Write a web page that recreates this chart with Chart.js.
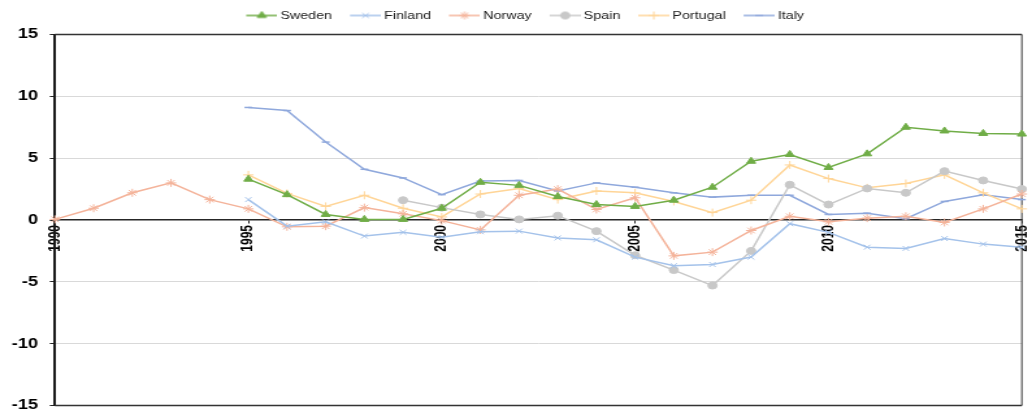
<!DOCTYPE html>
<html>
<head>
<meta charset="utf-8">
<script src="https://cdn.jsdelivr.net/npm/chart.js@4/dist/chart.umd.min.js"></script>
<style>
  html, body { margin: 0; padding: 0; background: #fff; overflow: hidden; }
</style>
</head>
<body>
<!-- drawn on a narrower canvas and widened by CSS, giving the wide lettering and oval markers -->
<canvas id="c" width="794" height="411" style="width:1032px;height:411px;display:block"></canvas>
<script>
// Annual values per country, 1990-2015 (null = no observation)
const years = ['1990','1991','1992','1993','1994','1995','1996','1997','1998','1999','2000','2001','2002',
               '2003','2004','2005','2006','2007','2008','2009','2010','2011','2012','2013','2014','2015'];

const sweden   = [null, null, null, null, null, 3.3, 2.05, 0.45, 0.05, 0.05, 0.95, 3.05, 2.8,
                  1.9, 1.25, 1.1, 1.6, 2.65, 4.75, 5.3, 4.25, 5.35, 7.5, 7.2, 7.0, 6.95];
const finland  = [null, null, null, null, null, 1.65, -0.5, -0.15, -1.3, -1.0, -1.4, -0.95, -0.9,
                  -1.45, -1.6, -3.0, -3.7, -3.6, -3.0, -0.3, -1.0, -2.2, -2.3, -1.5, -1.95, -2.2];
const norway   = [0.05, 0.95, 2.2, 3.0, 1.65, 0.9, -0.55, -0.5, 1.0, 0.5, -0.05, -0.8, 2.0,
                  2.5, 0.85, 1.8, -2.9, -2.6, -0.85, 0.3, -0.15, 0.15, 0.3, -0.2, 0.9, 2.1];
const spain    = [null, null, null, null, null, null, null, null, null, 1.6, 1.0, 0.45, 0.05,
                  0.35, -0.9, -2.85, -4.05, -5.3, -2.5, 2.85, 1.25, 2.55, 2.2, 3.95, 3.2, 2.5];
const portugal = [null, null, null, null, null, 3.65, 2.15, 1.1, 2.0, 0.95, 0.25, 2.1, 2.55,
                  1.65, 2.35, 2.2, 1.5, 0.6, 1.6, 4.45, 3.35, 2.6, 2.95, 3.65, 2.2, 0.9];
const italy    = [null, null, null, null, null, 9.1, 8.85, 6.3, 4.1, 3.4, 2.05, 3.15, 3.2,
                  2.35, 3.0, 2.65, 2.2, 1.85, 2.0, 2.0, 0.45, 0.55, 0.1, 1.5, 2.05, 1.65];

const seriesNames = ['Sweden', 'Finland', 'Norway', 'Spain', 'Portugal', 'Italy'];
const yMin = -15, yMax = 15, yStep = 5;
const labelEvery = 5;

const FONT = '"Liberation Sans", Arial, Helvetica, sans-serif';
Chart.defaults.font.family = FONT;

const styles = [
  { color: '#70AD47', point: 'triangle', radius: 4,   fill: true,  bw: 1 },
  { color: '#A4C2EA', point: 'crossRot', radius: 3.5, fill: false, bw: 1 },
  { color: '#F4B39A', point: 'star',     radius: 4,   fill: false, bw: 1 },
  { color: '#C8C8C8', point: 'circle',   radius: 3.5, fill: true,  bw: 1 },
  { color: '#FFD597', point: 'cross',    radius: 4,   fill: false, bw: 1 },
  { color: '#8FA8DC', point: 'line',     radius: 3,   fill: false, bw: 1.5 }
];
const values = [sweden, finland, norway, spain, portugal, italy];

const datasets = values.map((data, i) => {
  const s = styles[i];
  return {
    label: seriesNames[i],
    data: data,
    borderColor: s.color,
    backgroundColor: s.color,
    borderWidth: 1.5,
    tension: 0,
    clip: false,
    pointStyle: s.point,
    pointRadius: s.radius,
    pointBorderWidth: s.bw,
    pointBackgroundColor: s.color,
    pointBorderColor: s.color
  };
});

// Legend keys: a short line with the series marker on it
const iconW = 31, iconH = 12;
const legendIcons = styles.map(s => {
  const cv = document.createElement('canvas');
  cv.width = iconW; cv.height = iconH;
  const g = cv.getContext('2d');
  g.strokeStyle = s.color; g.fillStyle = s.color; g.lineWidth = 1.5;
  g.beginPath(); g.moveTo(7, iconH / 2); g.lineTo(iconW, iconH / 2); g.stroke();
  g.lineWidth = s.bw;
  Chart.helpers.drawPoint(g, { pointStyle: s.point, radius: s.radius, rotation: 0, borderWidth: s.bw }, 19, iconH / 2);
  return cv;
});

// Outline of the plotting area (top, right, bottom)
const frame = {
  id: 'frame',
  beforeDatasetsDraw(chart) {
    const { ctx, chartArea: a } = chart;
    ctx.save();
    ctx.strokeStyle = '#333';
    ctx.lineWidth = 1.3;
    ctx.beginPath();
    ctx.moveTo(a.left, a.top); ctx.lineTo(a.right, a.top);
    ctx.moveTo(a.left, a.bottom); ctx.lineTo(a.right, a.bottom);
    ctx.stroke();
    ctx.lineWidth = 1;
    ctx.beginPath();
    ctx.moveTo(a.right, a.top); ctx.lineTo(a.right, a.bottom);
    ctx.stroke();
    ctx.restore();
  }
};

// Fixed legend band height above the plot, legend row nudged right
const legendBand = {
  id: 'legendBand',
  beforeInit(chart) {
    const lg = chart.legend;
    if (lg) {
      const fit = lg.fit;
      lg.fit = function () { fit.call(this); this.height = 34.5; };
    }
  },
  afterLayout(chart) {
    const lg = chart.legend;
    if (lg) { lg.left += 18; }
  }
};

new Chart(document.getElementById('c'), {
  type: 'line',
  data: { labels: years, datasets: datasets },
  plugins: [legendBand, frame],
  options: {
    responsive: false,
    animation: false,
    devicePixelRatio: 1,
    events: [],
    layout: { padding: { top: 0, left: 0, right: 7.8, bottom: 4.5 } },
    plugins: {
      tooltip: { enabled: false },
      legend: {
        position: 'top',
        align: 'center',
        labels: {
          usePointStyle: true,
          pointStyleWidth: 24.6,
          padding: 10,
          color: '#1a1a1a',
          font: { family: FONT, size: 11 },
          generateLabels(chart) {
            const items = Chart.defaults.plugins.legend.labels.generateLabels(chart);
            items.forEach(it => { it.pointStyle = legendIcons[it.datasetIndex]; });
            return items;
          }
        }
      }
    },
    scales: {
      x: {
        type: 'category',
        position: { y: 0 },
        offset: false,
        grid: {
          drawOnChartArea: false,
          drawTicks: true,
          tickLength: 3,
          tickWidth: 1,
          tickColor: ctx => (ctx.index % labelEvery === 0 ? '#262626' : 'rgba(0,0,0,0)')
        },
        border: { display: true, color: '#262626', width: 1.5 },
        ticks: {
          autoSkip: false,
          minRotation: 90,
          maxRotation: 90,
          padding: 2,
          color: '#000',
          font: { family: FONT, size: 12, weight: 'bold' },
          callback(v, i) { return i % labelEvery === 0 ? this.getLabelForValue(v) : ''; }
        },
        afterFit(s) { s.height = 0; s.paddingLeft = 0; s.paddingRight = 0; }
      },
      y: {
        min: yMin,
        max: yMax,
        ticks: {
          stepSize: yStep,
          padding: 9,
          color: '#000',
          font: { family: FONT, size: 14, weight: 'bold' }
        },
        grid: {
          color: ctx => (ctx.tick && (ctx.tick.value === 0 || Math.abs(ctx.tick.value) === 15) ? 'rgba(0,0,0,0)' : '#D9D9D9'),
          lineWidth: 1,
          tickLength: 4,
          tickColor: '#262626'
        },
        border: { display: true, color: '#1a1a1a', width: 2 },
        afterFit(s) { s.width = 42.3; s.paddingTop = 0; s.paddingBottom = 0; }
      }
    }
  }
});
</script>
</body>
</html>
